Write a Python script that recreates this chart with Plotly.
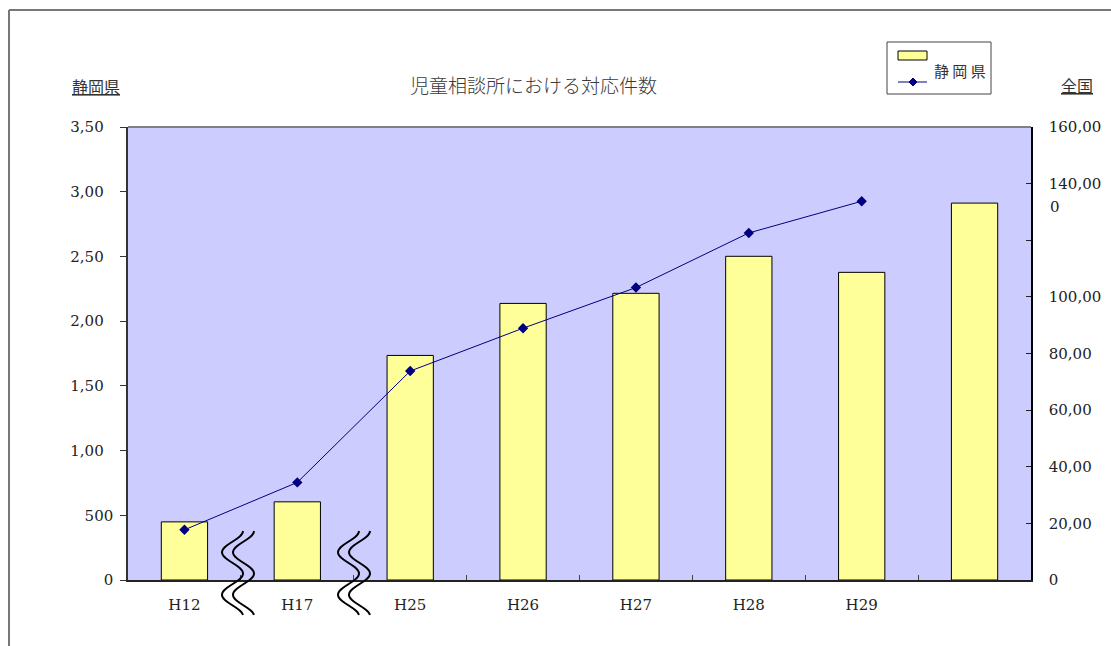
import plotly.graph_objects as go

# ---- data ----
categories = ["H12", "H17", "H25", "H26", "H27", "H28", "H29", " "]
shizuoka = [449, 604, 1735, 2137, 2215, 2501, 2377, 2912]
national = [17725, 34472, 73802, 88931, 103286, 122575, 133778, None]

left_tickvals = [0, 500, 1000, 1500, 2000, 2500, 3000, 3500]
left_ticktext = ["0", "500", "1,00\u2007", "1,50\u2007", "2,00\u2007", "2,50\u2007", "3,00\u2007", "3,50\u2007"]
right_tickvals = [0, 20000, 40000, 60000, 80000, 100000, 120000, 140000, 160000]
right_ticktext = ["0", "20,00", "40,00", "60,00", "80,00", "100,00", "", "140,00", "160,00"]

W, H = 1111, 646
L, R, T, B = 128, 80, 127, 66
PW, PH = W - L - R, H - T - B


def px(x):
    return (x - L) / PW


def py(y):
    return (H - B - y) / PH


fig = go.Figure()
fig.add_trace(go.Bar(
    x=categories, y=shizuoka, name="静岡県", width=0.41,
    marker=dict(color="#FFFF99", line=dict(color="#000000", width=1)),
    yaxis="y", showlegend=False,
))
fig.add_trace(go.Scatter(
    x=categories, y=national, name="全国", mode="lines+markers",
    line=dict(color="#000080", width=1),
    marker=dict(symbol="diamond", size=8, color="#000080"),
    yaxis="y2", showlegend=False, connectgaps=False,
))

tickfont = dict(family="DejaVu Serif", size=15, color="#222222")

fig.update_layout(
    width=W, height=H,
    margin=dict(l=L, r=R, t=T, b=B, autoexpand=False),
    paper_bgcolor="white",
    plot_bgcolor="#CCCCFF",
    xaxis=dict(
        type="category", showgrid=False, showline=True, linecolor="#222222", linewidth=2,
        ticks="inside", tickson="boundaries", ticklen=5, tickcolor="#444444",
        tickfont=tickfont, ticklabelstandoff=10, range=[-0.5, 7.5],
    ),
    yaxis=dict(
        range=[0, 3500], tickvals=left_tickvals, ticktext=left_ticktext,
        showgrid=False, zeroline=False, showline=True, linecolor="#333333", linewidth=1.5,
        ticks="outside", ticklen=6, tickcolor="#333333", tickfont=tickfont,
        ticklabelstandoff=4,
    ),
    yaxis2=dict(
        range=[0, 160000], tickvals=right_tickvals, ticktext=right_ticktext,
        overlaying="y", side="right", showgrid=False, zeroline=False,
        showline=True, linecolor="#000000", linewidth=1.5,
        ticks="inside", ticklen=5, tickcolor="#222222", tickfont=tickfont,
        ticklabelstandoff=13,
    ),
)

shapes = []
# outer frame
shapes.append(dict(type="line", xref="paper", yref="paper", x0=px(9), x1=px(1111), y0=py(10), y1=py(10),
                   line=dict(color="#777777", width=2)))
shapes.append(dict(type="line", xref="paper", yref="paper", x0=px(9), x1=px(9), y0=py(10), y1=py(646),
                   line=dict(color="#777777", width=2)))
# plot area top border
shapes.append(dict(type="line", xref="paper", yref="paper", x0=0, x1=1, y0=1, y1=1,
                   line=dict(color="#808080", width=2)))


# wavy break marks
def wave(cx, amp=10.5, y0=531, y1=616):
    import math
    pts = []
    y = y0
    while y <= y1 + 0.01:
        x = cx + amp * math.cos(math.pi * (y - y0) / 21.25)
        pts.append((px(x), py(y)))
        y += 1.5
    return "M " + " L ".join(f"{a:.5f},{b:.5f}" for a, b in pts)


for cx in (232.5, 243.5, 348.5, 359.5):
    shapes.append(dict(type="path", xref="paper", yref="paper", path=wave(cx),
                       line=dict(color="#000000", width=2)))

# legend box (drawn)
shapes.append(dict(type="rect", xref="paper", yref="paper", x0=px(887), x1=px(991), y0=py(94), y1=py(42),
                   line=dict(color="#444444", width=1), fillcolor="white"))
shapes.append(dict(type="rect", xref="paper", yref="paper", x0=px(898), x1=px(927), y0=py(60), y1=py(51),
                   line=dict(color="#000000", width=1), fillcolor="#FFFF99"))
shapes.append(dict(type="line", xref="paper", yref="paper", x0=px(898), x1=px(927), y0=py(82), y1=py(82),
                   line=dict(color="#000080", width=1)))
d = 4
shapes.append(dict(type="path", xref="paper", yref="paper",
                   path=f"M {px(913)},{py(82-d)} L {px(913+d)},{py(82)} L {px(913)},{py(82+d)} L {px(913-d)},{py(82)} Z",
                   line=dict(color="#000080", width=1), fillcolor="#000080"))
fig.update_layout(shapes=shapes)

cjk = "Noto Sans CJK JP"
common = dict(xref="paper", yref="paper", showarrow=False, yanchor="middle")
annotations = [
    dict(text="児童相談所における対応件数", x=px(533), y=py(85), xanchor="center",
         font=dict(family=cjk, size=19, color="#3a3a3a", weight=300), **common),
    dict(text="<u>静岡県</u>", x=px(96), y=py(86), xanchor="center",
         font=dict(family=cjk, size=16, color="#333333"), **common),
    dict(text="<u>全国</u>", x=px(1077), y=py(85), xanchor="center",
         font=dict(family=cjk, size=16, color="#333333"), **common),
    dict(text="静 岡 県", x=px(960), y=py(70), xanchor="center",
         font=dict(family=cjk, size=15, color="#333333"), **common),
    dict(text="0", x=px(1048), y=py(207), xanchor="left", font=tickfont, **common),
]
fig.update_layout(annotations=annotations)

fig.write_html("out.html")
